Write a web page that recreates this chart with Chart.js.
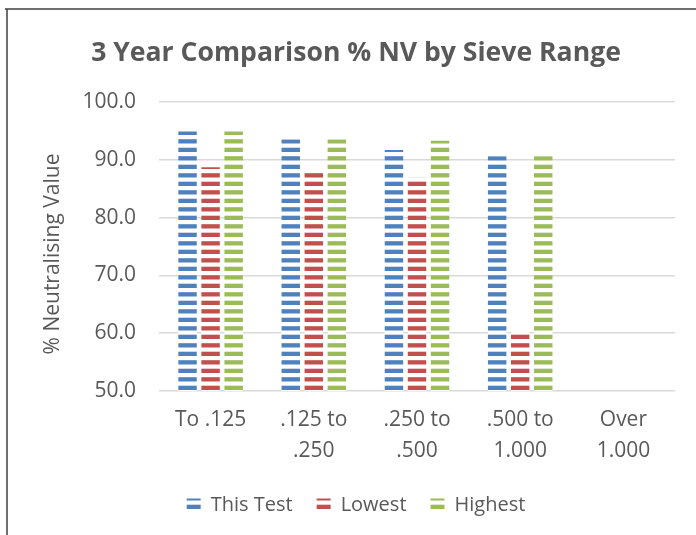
<!DOCTYPE html>
<html>
<head>
<meta charset="utf-8">
<script src="https://cdn.jsdelivr.net/npm/chart.js@4/dist/chart.umd.min.js"></script>
<style>
  html, body { margin: 0; padding: 0; background: #ffffff; }
  #wrap { width: 696px; height: 535px; }
</style>
</head>
<body>
<div id="wrap"><canvas id="c" width="696" height="535"></canvas></div>
<script>
const categories = [["To .125"], [".125 to", ".250"], [".250 to", ".500"], [".500 to", "1.000"], ["Over", "1.000"]];
const thisTest = [94.9, 93.5, 91.7, 90.6, null];
const lowest   = [88.7, 87.8, 86.9, 60.3, null];
const highest  = [94.9, 93.5, 93.3, 90.6, null];
const seriesNames = ["This Test", "Lowest", "Highest"];
const yAxisTitle = "% Neutralising Value";
const chartTitle = "3 Year Comparison % NV by Sieve Range";
const yMin = 50, yMax = 100, yStep = 10;

const canvas = document.getElementById('c');
const ctx = canvas.getContext('2d');

function stripePattern(color) {
  const t = document.createElement('canvas');
  t.width = 8; t.height = 17;
  const g = t.getContext('2d');
  g.fillStyle = '#ffffff';
  g.fillRect(0, 0, 8, 17);
  g.fillStyle = color;
  g.fillRect(0, 3.2, 8, 4.3);
  g.fillRect(0, 11.7, 8, 4.3);
  return ctx.createPattern(t, 'repeat');
}

const textColor = '#595959';
const baseFont = "'Open Sans', 'DejaVu Sans', sans-serif";

const frame = {
  id: 'frame',
  afterDraw(chart) {
    const c = chart.ctx;
    c.save();
    c.strokeStyle = '#404040';
    c.lineWidth = 1.5;
    c.beginPath();
    c.moveTo(5, 9); c.lineTo(696, 9);
    c.moveTo(7, 9); c.lineTo(7, 535);
    c.stroke();
    // y axis title, centred like the reference
    c.translate(53, 254);
    c.rotate(-Math.PI / 2);
    c.fillStyle = textColor;
    c.font = "21px " + baseFont;
    c.textAlign = 'center';
    c.textBaseline = 'middle';
    c.fillText(yAxisTitle, 0, 0);
    c.restore();
  }
};

const ds = (label, data, color) => ({
  label, data,
  backgroundColor: stripePattern(color),
  borderWidth: 0,
  categoryPercentage: 0.67,
  barPercentage: 0.8
});

new Chart(ctx, {
  type: 'bar',
  data: {
    labels: categories,
    datasets: [
      ds(seriesNames[0], thisTest, '#4f81bd'),
      ds(seriesNames[1], lowest, '#c0504d'),
      ds(seriesNames[2], highest, '#9bbb59')
    ]
  },
  options: {
    responsive: false,
    animation: false,
    devicePixelRatio: 1,
    layout: { padding: { left: 37, right: 21, top: 0, bottom: 10 } },
    plugins: {
      title: {
        display: true,
        text: chartTitle,
        color: textColor,
        font: { family: baseFont, size: 26.6, weight: 'bold' },
        padding: { top: 37, bottom: 33 }
      },
      legend: {
        position: 'bottom',
        labels: {
          color: textColor,
          font: { family: baseFont, size: 20 },
          boxWidth: 14,
          boxHeight: 13,
          padding: 24
        }
      },
      tooltip: { enabled: false }
    },
    scales: {
      x: {
        grid: { display: false },
        border: { display: false },
        ticks: {
          color: textColor,
          font: { family: baseFont, size: 21, lineHeight: 1.45 },
          padding: 6,
          maxRotation: 0,
          autoSkip: false
        },
        afterFit(s) { s.height = 80; }
      },
      y: {
        min: yMin, max: yMax,
        grid: { color: '#d9d9d9', lineWidth: 1.5, drawTicks: false },
        border: { display: false },
        ticks: {
          stepSize: yStep,
          color: textColor,
          font: { family: baseFont, size: 21 },
          padding: 23,
          callback: v => Number(v).toFixed(1)
        },
        afterFit(s) { s.width = 122; }
      }
    }
  },
  plugins: [frame]
});
</script>
</body>
</html>
